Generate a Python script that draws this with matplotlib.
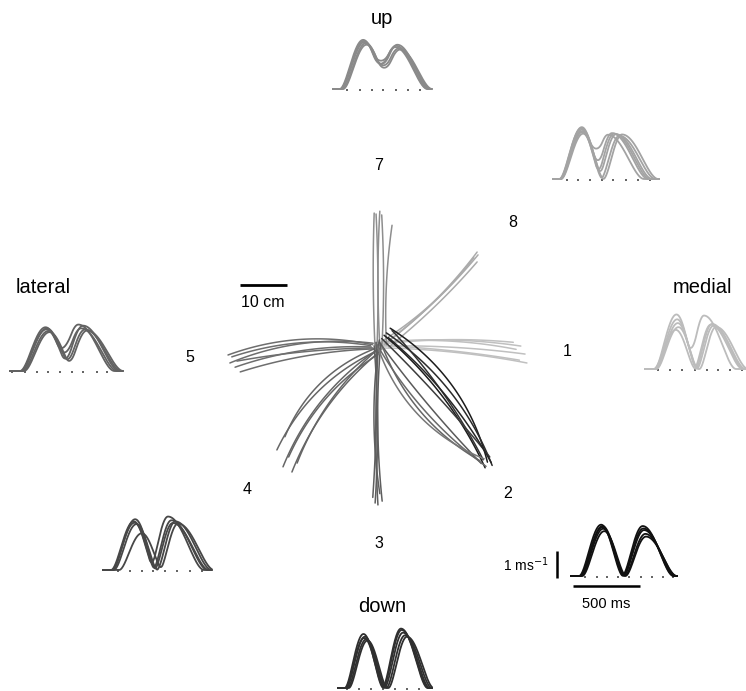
import numpy as np
import matplotlib.pyplot as plt

plt.rcParams['font.family'] = ['Liberation Sans', 'DejaVu Sans']

W, H = 746, 691
fig = plt.figure(figsize=(W / 100, H / 100), dpi=100)
fig.patch.set_facecolor('white')

# ---------------------------------------------------------------------------
# Hand paths (cm, origin at the start position).  Each entry:
# (x_start, y_start, x_end, y_end, bow) ; bow = sideways bulge at mid-path (cm)
# ---------------------------------------------------------------------------
paths_1 = [(0.0, 0.5, 29.0, 1.0, 0.8), (-0.5, 0.8, 30.6, 0.2, 1.0),
           (0.2, 0.2, 31.5, -1.5, 0.6), (-0.8, 0.4, 30.3, -2.8, 0.5),
           (0.5, -0.2, 31.9, -3.4, 0.7), (-0.3, 0.9, 29.6, -0.5, 1.1)]
paths_2 = [(2.8, 4.0, 23.5, -24.5, 3.5), (2.0, 3.0, 24.5, -25.2, 2.8),
           (1.5, 2.5, 23.0, -25.7, 2.0), (3.2, 3.5, 22.6, -24.0, 1.2),
           (1.0, 1.8, 24.0, -23.4, 0.5), (0.5, 1.0, 22.2, -24.8, -0.6),
           (0.0, 0.5, 23.2, -25.4, -1.8), (1.2, 0.0, 21.9, -24.2, -2.8),
           (0.3, -0.4, 22.8, -23.8, -3.6), (2.4, 2.0, 24.3, -24.6, 1.6)]
paths_3 = [(-0.2, 1.0, -0.9, -32.0, 0.4), (0.3, 0.5, 0.2, -33.6, -0.5),
           (0.8, 0.8, 1.1, -32.8, -0.8), (-0.6, 0.2, -0.4, -33.2, 0.6),
           (0.5, 1.5, 0.6, -31.2, -1.2)]
paths_4 = [(-0.4, -1.0, -21.3, -21.9, -2.6), (0.0, -0.6, -20.0, -25.5, -2.4),
           (0.3, -1.2, -18.1, -26.6, -2.0), (-0.2, -0.8, -17.0, -24.7, -1.8),
           (-0.6, -0.4, -19.6, -19.1, -2.8), (0.2, -1.6, -18.8, -23.4, -2.2)]
paths_5 = [(-1.0, 0.5, -31.7, -1.7, -2.2), (-0.8, 0.8, -31.3, -3.4, -2.0),
           (-1.2, 0.0, -30.2, -4.3, -1.4), (-0.5, -0.4, -29.1, -5.3, -1.0),
           (-1.4, 0.3, -30.9, -2.1, -1.8), (-0.9, -0.2, -29.8, -3.0, -0.6)]
paths_7 = [(-0.4, -0.5, -0.6, 28.5, 0.3), (0.0, -0.2, -0.2, 28.3, -0.3),
           (0.6, 0.2, 0.6, 28.9, 0.4), (1.0, -0.6, 1.0, 28.1, -0.4),
           (2.0, 0.5, 3.2, 25.9, 0.6)]
paths_8 = [(1.5, 0.5, 21.3, 20.2, -1.0), (2.0, 1.0, 21.5, 19.6, -0.8),
           (2.5, 0.0, 21.3, 18.1, -0.6), (1.0, 1.2, 20.6, 19.0, -1.2)]

path_colors = {1: '#c0c0c0', 2: ['#1c1c1c', '#2a2a2a', '#1c1c1c', '#333333',
                                 '#3c3c3c', '#5a5a5a', '#6a6a6a', '#666666',
                                 '#777777', '#262626'],
               3: '#5e5e5e', 4: '#666666', 5: '#6e6e6e', 7: '#8e8e8e',
               8: '#ababab'}

# ---------------------------------------------------------------------------
# Hand-speed profiles: (peak time 1 [ms], peak 1 [m/s], peak time 2, peak 2)
# ---------------------------------------------------------------------------
speed_up = [(225, 1.82, 470, 1.60), (235, 1.74, 480, 1.64),
            (245, 1.70, 490, 1.50), (230, 1.78, 465, 1.55),
            (250, 1.64, 500, 1.46)]
speed_8 = [(215, 1.92, 410, 1.64), (220, 1.84, 440, 1.70),
           (222, 1.78, 470, 1.66), (218, 1.74, 495, 1.60),
           (225, 1.68, 515, 1.65), (212, 1.88, 455, 1.68)]
speed_medial = [(235, 2.02, 440, 1.98), (240, 1.84, 490, 1.64),
                (245, 1.70, 510, 1.60), (250, 1.55, 530, 1.56),
                (230, 1.45, 500, 1.67)]
speed_lateral = [(265, 1.62, 510, 1.72), (275, 1.58, 530, 1.58),
                 (285, 1.48, 560, 1.54), (295, 1.44, 575, 1.50),
                 (270, 1.54, 545, 1.68)]
speed_4 = [(230, 1.80, 485, 1.98), (240, 1.88, 520, 1.74),
           (250, 1.70, 540, 1.80), (290, 1.36, 560, 1.72),
           (235, 1.75, 510, 1.84)]
speed_2 = [(225, 1.90, 535, 1.85), (232, 1.80, 545, 1.70),
           (240, 1.75, 555, 1.56), (248, 1.66, 560, 1.46),
           (235, 1.85, 540, 1.76)]
speed_down = [(190, 2.00, 470, 2.20), (200, 1.90, 485, 2.05),
              (210, 1.80, 500, 1.95), (220, 1.76, 515, 1.90),
              (195, 1.85, 475, 2.15)]

# rise/fall half-widths of the two speed peaks (ms)
widths_up = (175, 185, 170, 240)
widths_8 = (165, 155, 140, 270)
widths_medial = (165, 150, 125, 240)
widths_lateral = (190, 190, 160, 270)
widths_4 = (170, 160, 140, 270)
widths_2 = (165, 165, 155, 230)
widths_down = (140, 150, 140, 200)

# dotted time base (ms)
dots_up = [104, 201, 291, 373, 470, 560, 649]
dots_8 = [104, 187, 276, 366, 448, 545, 634, 724]
dots_medial = [97, 187, 276, 373, 462, 544, 634, 724]
dots_lateral = [15, 112, 201, 283, 373, 462, 545, 649, 724]
dots_4 = [112, 201, 291, 373, 463, 552, 649, 739]
dots_2 = [104, 194, 269, 351, 433, 522, 604, 686, 761]
dots_down = [67, 157, 246, 336, 425, 515, 604]

# ---------------------------------------------------------------------------
PX_PER_CM = 4.7
CENTER = (377, 347)
MS_PER_PX = 500 / 67.0
MPS_PER_PX = 1 / 27.0


def px_axes(left, top, width, height):
    return fig.add_axes([left / W, 1 - (top + height) / H, width / W, height / H])


def curved_path(x0, y0, x1, y1, bow, n=80):
    dx, dy = x1 - x0, y1 - y0
    length = np.hypot(dx, dy)
    nx, ny = -dy / length, dx / length
    cx = (x0 + x1) / 2 + 2 * bow * nx
    cy = (y0 + y1) / 2 + 2 * bow * ny
    t = np.linspace(0, 1, n)
    x = (1 - t) ** 2 * x0 + 2 * (1 - t) * t * cx + t ** 2 * x1
    y = (1 - t) ** 2 * y0 + 2 * (1 - t) * t * cy + t ** 2 * y1
    return x, y


# trajectory panel
left_px, top_px, w_px, h_px = 200, 190, 360, 330
ax = px_axes(left_px, top_px, w_px, h_px)
ax.set_xlim((left_px - CENTER[0]) / PX_PER_CM, (left_px + w_px - CENTER[0]) / PX_PER_CM)
ax.set_ylim((CENTER[1] - top_px - h_px) / PX_PER_CM, (CENTER[1] - top_px) / PX_PER_CM)
ax.axis('off')

for key, group in [(1, paths_1), (8, paths_8), (7, paths_7), (5, paths_5),
                   (4, paths_4), (3, paths_3), (2, paths_2)]:
    for i, p in enumerate(group):
        col = path_colors[key]
        if isinstance(col, list):
            col = col[i]
        x, y = curved_path(*p)
        ax.plot(x, y, color=col, lw=1.1, solid_capstyle='round', clip_on=False)

# 10 cm scale bar
ax.plot([-29.1, -19.1], [13.2, 13.2], color='black', lw=2.0, solid_capstyle='butt')
fig.text(263 / W, 1 - 302 / H, '10 cm', ha='center', va='center', fontsize=11.5)


# speed profile panels
def speed_curve(t, tp, a, rise, fall):
    u = np.where(t < tp, (t - tp) / rise, (t - tp) / fall)
    return a * np.clip(1 - u ** 2, 0, None) ** 2


def profile(left, base, traces, widths, dots, color, t_end, width_px=112):
    h = 75
    a = px_axes(left, base - h, width_px, h)
    a.set_xlim(0, width_px * MS_PER_PX)
    a.set_ylim(0, h * MPS_PER_PX)
    a.axis('off')
    r1, f1, r2, f2 = widths
    t = np.linspace(0, t_end, 400)
    for tp1, a1, tp2, a2 in traces:
        v = speed_curve(t, tp1, a1, r1, f1) + speed_curve(t, tp2, a2, r2, f2)
        a.plot(t, v, color=color, lw=1.3, clip_on=False)
    a.scatter(dots, np.zeros(len(dots)) - 0.03, s=1.4, marker='s',
              color='#666666', lw=0, clip_on=False, zorder=0)
    return a


profile(333, 89, speed_up, widths_up, dots_up, '#8a8a8a', 735)
profile(553, 179, speed_8, widths_8, dots_8, '#a3a3a3', 790)
profile(645, 369, speed_medial, widths_medial, dots_medial, '#bcbcbc', 780)
profile(10, 371, speed_lateral, widths_lateral, dots_lateral, '#626262', 840, 120)
profile(103, 570, speed_4, widths_4, dots_4, '#474747', 810)
ax2 = profile(571, 576, speed_2, widths_2, dots_2, '#111111', 790)
profile(338, 688, speed_down, widths_down, dots_down, '#2f2f2f', 700)

# speed / time scale bars
ax2.plot([-104, -104], [-0.07, 0.93], color='black', lw=1.8, clip_on=False,
         solid_capstyle='butt')
ax2.plot([15, 515], [-0.37, -0.37], color='black', lw=1.8, clip_on=False,
         solid_capstyle='butt')
fig.text(549 / W, 1 - 565 / H, '1 ms$^{-1}$', ha='right', va='center', fontsize=10)
fig.text(606 / W, 1 - 604 / H, '500 ms', ha='center', va='center', fontsize=10.5)

# direction names and target numbers
for txt, x, y in [('up', 382, 18), ('down', 382, 607), ('lateral', 43, 287),
                  ('medial', 702, 287)]:
    fig.text(x / W, 1 - y / H, txt, ha='center', va='center', fontsize=14.5)

for txt, x, y in [('7', 379, 165), ('8', 513, 222), ('1', 567, 352),
                  ('2', 508, 493), ('3', 379, 543), ('4', 247, 490),
                  ('5', 190, 358)]:
    fig.text(x / W, 1 - y / H, txt, ha='center', va='center', fontsize=11.5)

fig.savefig('out.png', dpi=100, facecolor='white')
